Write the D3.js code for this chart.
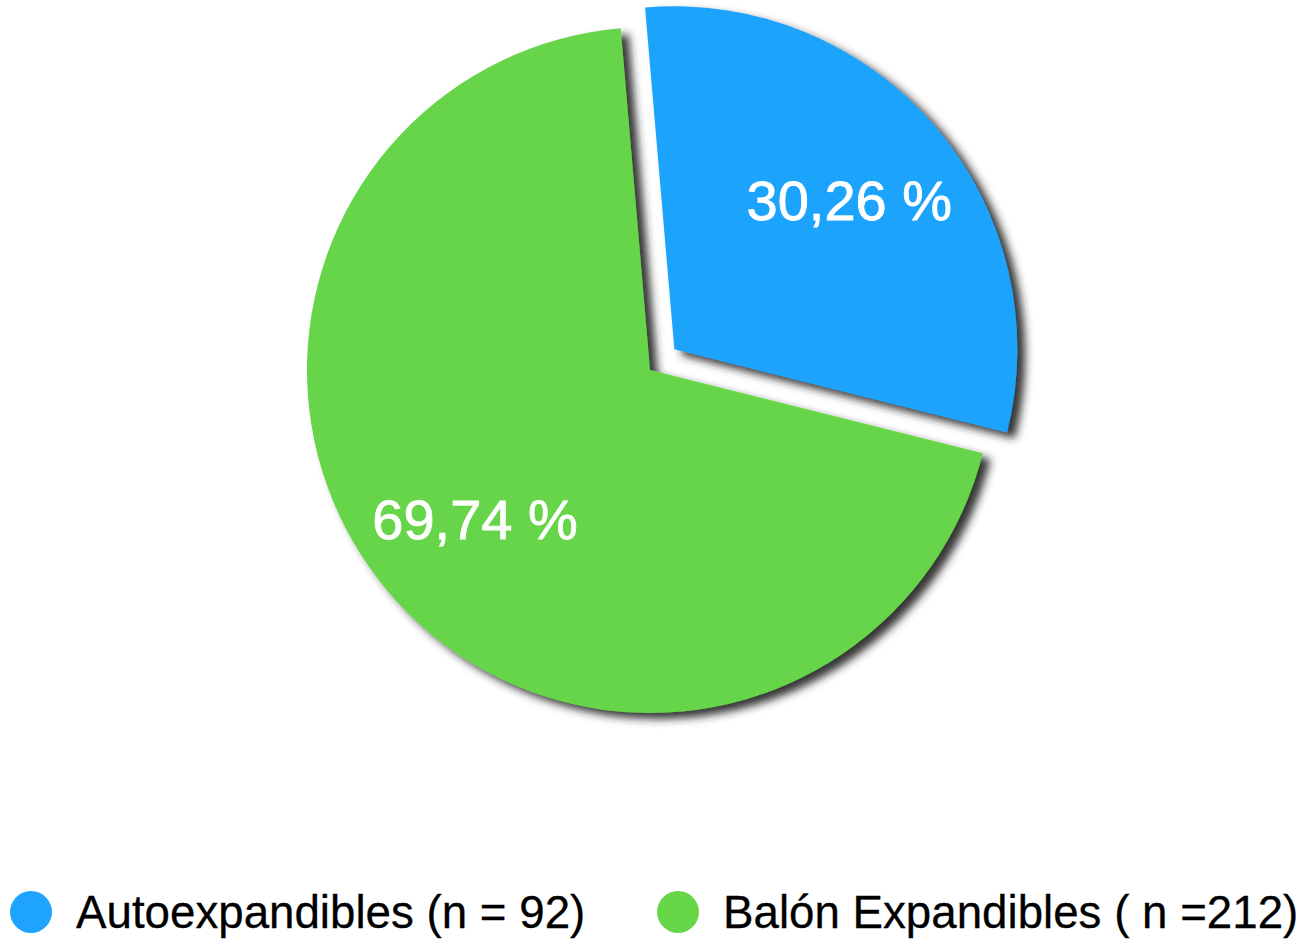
<!DOCTYPE html>
<html>
<head>
<meta charset="utf-8">
<script src="https://cdn.jsdelivr.net/npm/d3@7"></script>
<style>
  html, body { margin: 0; padding: 0; background: #fff; }
  svg { display: block; }
</style>
</head>
<body>
<svg id="chart" width="1300" height="942"></svg>
<script>
const categories = ["Autoexpandibles (n = 92)", "Balón Expandibles ( n =212)"];
const counts = [92, 212];
const sliceLabels = ["30,26 %", "69,74 %"];
const colors = ["#1ea4fc", "#66d548"];
const explode = [32, 0];

const W = 1300, H = 942;
const cx = 650, cy = 370, R = 343;
const startDeg = -4.9;

const svg = d3.select("#chart");
const defs = svg.append("defs");
const f = defs.append("filter").attr("id", "shadow")
  .attr("x", "-20%").attr("y", "-20%").attr("width", "140%").attr("height", "140%");
f.append("feDropShadow").attr("dx", 8).attr("dy", 6).attr("stdDeviation", 4)
  .attr("flood-color", "#222").attr("flood-opacity", 0.92);

const data = categories.map((c, i) => ({ name: c, value: counts[i], label: sliceLabels[i], color: colors[i], explode: explode[i] }));

const start = startDeg * Math.PI / 180;
const pie = d3.pie().value(d => d.value).sort(null)
  .startAngle(start).endAngle(start + 2 * Math.PI);
const arcs = pie(data);
const arc = d3.arc().innerRadius(0).outerRadius(R);
const labelArc = d3.arc().innerRadius(R * 0.67).outerRadius(R * 0.67);

const g = svg.append("g").attr("transform", `translate(${cx},${cy})`);

const slices = g.selectAll("g.slice").data(arcs).join("g")
  .attr("class", "slice")
  .attr("transform", d => {
    const mid = (d.startAngle + d.endAngle) / 2;
    const o = d.data.explode;
    return `translate(${o * Math.sin(mid)},${-o * Math.cos(mid)})`;
  });

slices.sort((a, b) => b.data.value - a.data.value);

slices.append("path")
  .attr("d", arc)
  .attr("fill", d => d.data.color)
  .attr("filter", "url(#shadow)");

slices.append("text")
  .attr("transform", d => `translate(${labelArc.centroid(d)})`)
  .attr("text-anchor", "middle")
  .attr("dominant-baseline", "central")
  .attr("fill", "#fff")
  .attr("stroke", "#fff")
  .attr("stroke-width", 0.8)
  .attr("font-family", "Liberation Sans, Arial, sans-serif")
  .attr("font-size", 56)
  .text(d => d.data.label);

// legend
const legendX = [31, 678];
const legendY = 912;
const lg = svg.append("g");
const items = lg.selectAll("g").data(data).join("g")
  .attr("transform", (d, i) => `translate(${legendX[i]},${legendY})`);
items.append("circle").attr("r", 21).attr("fill", d => d.color);
items.append("text")
  .attr("x", 45)
  .attr("y", 0)
  .attr("dominant-baseline", "central")
  .attr("font-family", "Liberation Sans, Arial, sans-serif")
  .attr("font-size", 45.7)
  .attr("fill", "#000")
  .attr("stroke", "#000")
  .attr("stroke-width", 0.3)
  .text(d => d.name);
</script>
</body>
</html>
